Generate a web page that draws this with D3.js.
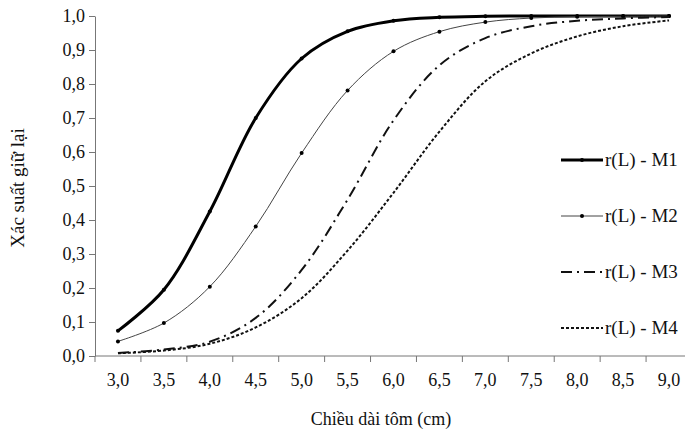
<!DOCTYPE html>
<html>
<head>
<meta charset="utf-8">
<script src="https://cdn.jsdelivr.net/npm/d3@7"></script>
<style>
  body { margin: 0; background: #fff; }
</style>
</head>
<body>
<svg width="685" height="435" font-family="Liberation Serif"></svg>
<script>
// chiều dài tôm (cm)
const categories = ["3,0", "3,5", "4,0", "4,5", "5,0", "5,5", "6,0", "6,5", "7,0", "7,5", "8,0", "8,5", "9,0"];
const m1 = [0.074, 0.195, 0.425, 0.70, 0.875, 0.955, 0.986, 0.996, 0.999, 1.0, 1.0, 1.0, 1.0];
const m2 = [0.043, 0.097, 0.204, 0.381, 0.597, 0.781, 0.896, 0.954, 0.982, 0.994, 0.998, 0.999, 1.0];
const m3 = [0.009, 0.019, 0.042, 0.112, 0.253, 0.46, 0.693, 0.855, 0.935, 0.97, 0.986, 0.993, 0.997];
const m4 = [0.008, 0.016, 0.036, 0.084, 0.17, 0.31, 0.48, 0.66, 0.808, 0.89, 0.94, 0.97, 0.987];
const yTicks = [0, 0.1, 0.2, 0.3, 0.4, 0.5, 0.6, 0.7, 0.8, 0.9, 1.0];
const seriesNames = ["r(L) - M1", "r(L) - M2", "r(L) - M3", "r(L) - M4"];

const FONT = "Liberation Serif";
const svg = d3.select("svg");

const x = d3.scaleBand().domain(categories).range([95, 692]);
const y = d3.scaleLinear().domain([0, 1]).range([356, 16]);

const fmt = d => d.toFixed(1).replace(".", ",");

// y axis
const yAxis = svg.append("g")
  .attr("transform", "translate(95,0)")
  .call(d3.axisLeft(y).tickValues(yTicks).tickFormat(fmt).tickSize(6).tickSizeOuter(0))
  .attr("font-family", FONT);
yAxis.select(".domain").attr("stroke", "#777");
yAxis.selectAll(".tick line").attr("stroke", "#777");
yAxis.selectAll("text").attr("font-family", FONT).attr("font-size", 18).attr("fill", "#111").attr("x", -10);

// x axis (ticks on band boundaries)
const xAxis = svg.append("g").attr("transform", "translate(0,356)");
xAxis.append("line").attr("x1", 95).attr("x2", 692).attr("stroke", "#777");
xAxis.selectAll(".xt").data(categories).enter().append("line")
  .attr("x1", d => x(d)).attr("x2", d => x(d))
  .attr("y1", 0).attr("y2", 6).attr("stroke", "#777");
xAxis.selectAll(".xl").data(categories).enter().append("text")
  .attr("x", d => x(d) + x.bandwidth() / 2)
  .attr("y", 30)
  .attr("text-anchor", "middle")
  .attr("font-family", FONT)
  .attr("font-size", 18)
  .attr("fill", "#111")
  .text(d => d);

// axis titles
svg.append("text")
  .attr("x", 381).attr("y", 425)
  .attr("text-anchor", "middle").attr("font-family", FONT).attr("font-size", 18).attr("fill", "#111")
  .text("Chiều dài tôm (cm)");
svg.append("text")
  .attr("transform", "translate(24,188) rotate(-90)")
  .attr("text-anchor", "middle").attr("font-family", FONT).attr("font-size", 19).attr("fill", "#111")
  .text("Xác suất giữ lại");

const styles = [
  { width: 3, color: "#000", dash: null, marker: true },
  { width: 1, color: "#444", dash: null, marker: true },
  { width: 2, color: "#111", dash: "11,5,2,5", marker: false },
  { width: 2, color: "#111", dash: "3,2", marker: false }
];
const allSeries = [m1, m2, m3, m4];

const line = d3.line()
  .x((d, i) => x(categories[i]) + x.bandwidth() / 2)
  .y(d => y(d))
  .curve(d3.curveCatmullRom.alpha(0.5));

allSeries.forEach((vals, k) => {
  const s = styles[k];
  svg.append("path")
    .datum(vals)
    .attr("fill", "none")
    .attr("stroke", s.color)
    .attr("stroke-width", s.width)
    .attr("stroke-dasharray", s.dash)
    .attr("d", line);
  if (s.marker) {
    svg.selectAll(".mk" + k).data(vals).enter().append("circle")
      .attr("cx", (d, i) => x(categories[i]) + x.bandwidth() / 2)
      .attr("cy", d => y(d))
      .attr("r", 2)
      .attr("fill", "#000");
  }
});

// legend
const legend = svg.append("g");
const legY = [160, 216, 272, 328];
seriesNames.forEach((name, k) => {
  const s = styles[k];
  legend.append("line")
    .attr("x1", 561).attr("x2", 603)
    .attr("y1", legY[k]).attr("y2", legY[k])
    .attr("stroke", s.color)
    .attr("stroke-width", s.width)
    .attr("stroke-dasharray", s.dash);
  if (s.marker) {
    legend.append("circle").attr("cx", 582).attr("cy", legY[k]).attr("r", 2).attr("fill", "#000");
  }
  legend.append("text")
    .attr("x", 605).attr("y", legY[k] + 6)
    .attr("font-family", FONT)
    .attr("font-size", 19).attr("fill", "#111")
    .text(name);
});
</script>
</body>
</html>
